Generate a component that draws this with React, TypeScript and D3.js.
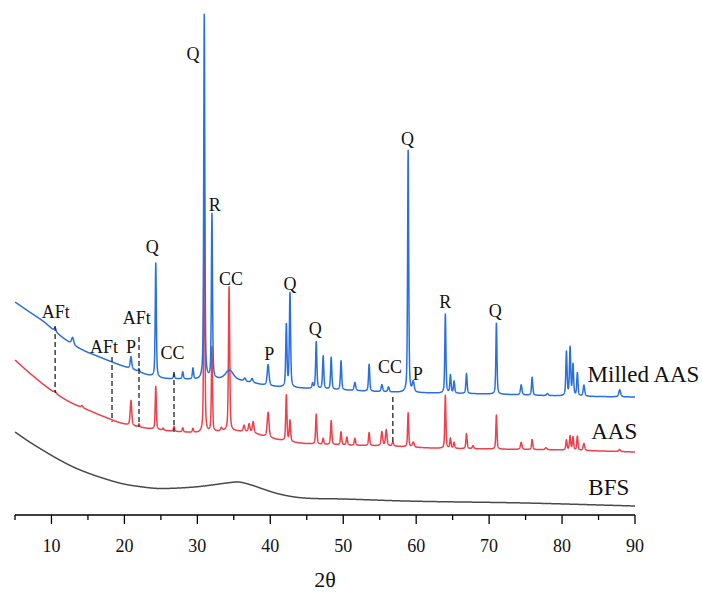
import React from "react";
import * as d3 from "d3";

// background knots (2θ, intensity a.u.)
const bfsBgX = [5, 7, 9, 11, 13, 15, 17, 19.6, 22, 25, 29.6, 32, 34, 35.5, 37.4, 39, 40.7, 42.5, 44.6, 50, 58.5, 75, 90];
const bfsBgV = [166, 146, 128, 111, 96, 84, 74, 63, 57, 53, 56, 60, 64, 66, 60, 52, 44, 38, 34, 32, 28, 24, 18];

const aasBgX = [5, 7, 9, 10.5, 12.5, 15, 18, 19.5, 22, 25, 28, 31, 34, 37, 40, 44, 50, 56, 62, 70, 80, 90];
const aasBgV = [310, 284, 260, 244, 226, 210, 192, 184, 176, 170, 166, 164, 168, 166, 154, 144, 140, 138, 134, 132, 130, 126];

const milledBgX = [5, 7, 9, 10.5, 12, 14, 16.6, 19.4, 21.4, 23, 25, 28, 31, 34, 37, 40, 44, 50, 56, 62, 70, 80, 90];
const milledBgV = [426, 406, 386, 367, 350, 332, 316, 300, 290, 281, 274, 272, 270, 272, 266, 258, 254, 250, 246, 244, 242, 238, 236];

// peaks: [2θ, net height, fwhm]
const aasPeaks = [
  [10.5, 4, 0.3], [14.2, 4, 0.3], [20.9, 50, 0.25], [22.0, 6, 0.2], [24.3, 86, 0.18],
  [25.3, 4, 0.2], [26.8, 10, 0.2], [28.0, 8, 0.2], [29.4, 8, 0.2], [30.95, 476, 0.18],
  [32.0, 170, 0.18], [33.3, 6, 0.25], [34.35, 288, 0.2], [36.4, 12, 0.25], [37.1, 16, 0.25],
  [37.65, 22, 0.25], [39.7, 50, 0.3], [42.2, 92, 0.2], [42.7, 42, 0.2], [46.3, 60, 0.2],
  [47.25, 12, 0.2], [48.35, 48, 0.2], [49.7, 26, 0.2], [50.5, 16, 0.2], [51.6, 14, 0.2],
  [53.55, 26, 0.2], [55.3, 28, 0.25], [55.9, 32, 0.25], [56.8, 8, 0.25], [58.9, 68, 0.18],
  [59.6, 10, 0.3], [64.0, 106, 0.18], [64.7, 20, 0.2], [65.2, 12, 0.2], [66.9, 30, 0.2],
  [67.8, 6, 0.25], [71.0, 68, 0.18], [74.4, 14, 0.25], [75.9, 20, 0.2], [77.8, 4, 0.3],
  [80.6, 20, 0.2], [81.1, 28, 0.2], [81.5, 26, 0.2], [82.1, 28, 0.2], [83.0, 14, 0.25],
  [87.9, 4, 0.3],
];

const milledPeaks = [
  [10.5, 8, 0.3], [12.9, 14, 0.35], [20.9, 24, 0.25], [22.0, 6, 0.2], [24.3, 228, 0.18],
  [26.8, 10, 0.2], [28.0, 14, 0.2], [29.4, 22, 0.2], [30.95, 730, 0.18], [32.0, 330, 0.18],
  [34.4, 18, 1.2], [36.5, 6, 0.3], [37.5, 8, 0.3], [39.7, 42, 0.3], [42.2, 124, 0.2],
  [42.7, 188, 0.2], [45.8, 10, 0.2], [46.3, 94, 0.2], [47.25, 66, 0.2], [48.35, 64, 0.2],
  [49.7, 58, 0.2], [51.6, 16, 0.25], [53.55, 54, 0.2], [55.3, 14, 0.25], [56.2, 10, 0.25],
  [58.9, 484, 0.18], [59.6, 20, 0.3], [64.0, 158, 0.18], [64.7, 36, 0.2], [65.2, 24, 0.2],
  [66.9, 40, 0.2], [71.0, 142, 0.18], [74.4, 20, 0.25], [75.9, 36, 0.2], [78.0, 4, 0.3],
  [80.6, 88, 0.2], [81.1, 96, 0.2], [81.5, 62, 0.2], [82.1, 46, 0.2], [83.0, 22, 0.25],
  [87.9, 14, 0.3],
];

const bfsPeaks: number[][] = [];

// phase annotations: [label, 2θ, intensity]
const annotations: [string, number, number][] = [
  ["AFt", 10.6, 394], ["AFt", 17.2, 324], ["P", 20.9, 324], ["AFt", 21.7, 382],
  ["Q", 23.8, 524], ["CC", 26.6, 312], ["Q", 29.4, 910], ["R", 32.4, 608],
  ["CC", 34.6, 460], ["P", 39.85, 310], ["Q", 42.7, 450], ["Q", 46.15, 360],
  ["CC", 56.4, 284], ["Q", 58.8, 740], ["P", 60.2, 270], ["R", 64.0, 414], ["Q", 70.85, 396],
];

// dashed markers: [2θ, from, to]
const markers = [
  [10.5, 378, 244], [18.3, 316, 186], [22.0, 356, 176], [26.8, 286, 166], [56.8, 236, 146],
];

const xTicks = [10, 20, 30, 40, 50, 60, 70, 80, 90];
const minorTicks = [5, 15, 25, 35, 45, 55, 65, 75, 85];

const series = [
  { name: "BFS", bgX: bfsBgX, bgV: bfsBgV, peaks: bfsPeaks, color: "#4a4a4a", label: [83.6, 40] },
  { name: "AAS", bgX: aasBgX, bgV: aasBgV, peaks: aasPeaks, color: "#ef3f4a", label: [84.0, 152] },
  { name: "Milled AAS", bgX: milledBgX, bgV: milledBgV, peaks: milledPeaks, color: "#2a6fe0", label: [83.5, 266] },
];

const W = 702;
const H = 592;
const FONT = "'Liberation Serif', 'Times New Roman', serif";

function profile(t: number, c: number, w: number) {
  const d = (t - c) / (w / 2);
  return 0.5 / (1 + d * d) + 0.5 * Math.exp(-Math.LN2 * d * d);
}

// smooth monotone curve through the background knots
function monotone(xs: number[], ys: number[]) {
  const n = xs.length;
  const d: number[] = [];
  for (let i = 0; i < n - 1; i++) d.push((ys[i + 1] - ys[i]) / (xs[i + 1] - xs[i]));
  const m: number[] = [d[0]];
  for (let i = 1; i < n - 1; i++) m.push(d[i - 1] * d[i] <= 0 ? 0 : (d[i - 1] + d[i]) / 2);
  m.push(d[n - 2]);
  for (let i = 0; i < n - 1; i++) {
    if (d[i] === 0) { m[i] = 0; m[i + 1] = 0; continue; }
    const a = m[i] / d[i], b = m[i + 1] / d[i], s = a * a + b * b;
    if (s > 9) { const k = 3 / Math.sqrt(s); m[i] = k * a * d[i]; m[i + 1] = k * b * d[i]; }
  }
  return (t: number) => {
    const i = Math.max(0, Math.min(n - 2, d3.bisectRight(xs, t) - 1));
    const h = xs[i + 1] - xs[i], u = (t - xs[i]) / h;
    const h00 = 2 * u ** 3 - 3 * u ** 2 + 1, h10 = u ** 3 - 2 * u ** 2 + u;
    const h01 = -2 * u ** 3 + 3 * u ** 2, h11 = u ** 3 - u ** 2;
    return h00 * ys[i] + h10 * h * m[i] + h01 * ys[i + 1] + h11 * h * m[i + 1];
  };
}

const grid = d3.range(5, 90.0001, 0.01);

function buildPattern(bgX: number[], bgV: number[], peaks: number[][]) {
  const bg = monotone(bgX, bgV);
  return grid.map((t) => {
    let v = bg(t);
    for (const [c, h, w] of peaks) {
      if (Math.abs(t - c) < 4) v += h * profile(t, c, w);
    }
    return [t, v] as [number, number];
  });
}

export default function App() {
  const x = d3.scaleLinear().domain([5, 90]).range([15, 635]);
  const y = d3.scaleLinear().domain([0, 1000]).range([515, 15]);
  const line = d3
    .line<[number, number]>()
    .x((d) => x(d[0]))
    .y((d) => y(d[1]));

  return (
    <svg
      width={W}
      height={H}
      style={{ position: "absolute", left: 0, top: 0, background: "#fff" }}
      fontFamily={FONT}
    >
      {series.map((s) => (
        <path
          key={s.name}
          d={line(buildPattern(s.bgX, s.bgV, s.peaks)) || ""}
          fill="none"
          stroke={s.color}
          strokeWidth={1.5}
          strokeLinejoin="round"
        />
      ))}

      {markers.map(([t, a, b], i) => (
        <line
          key={i}
          x1={x(t)}
          x2={x(t)}
          y1={y(a)}
          y2={y(b)}
          stroke="#222"
          strokeWidth={1.3}
          strokeDasharray="5,3"
        />
      ))}

      {annotations.map(([lab, t, v], i) => (
        <text key={i} x={x(t)} y={y(v)} textAnchor="middle" fontSize={18} fill="#111">
          {lab}
        </text>
      ))}

      {series.map((s) => (
        <text key={s.name + "l"} x={x(s.label[0])} y={y(s.label[1])} fontSize={23} fill="#111">
          {s.name}
        </text>
      ))}

      {/* x axis */}
      <line x1={x(5)} x2={x(90)} y1={515} y2={515} stroke="#000" strokeWidth={1.5} />
      {xTicks.map((t) => (
        <g key={t}>
          <line x1={x(t)} x2={x(t)} y1={515} y2={524} stroke="#000" strokeWidth={1.3} />
          <text x={x(t)} y={552} textAnchor="middle" fontSize={18} fill="#111">
            {t}
          </text>
        </g>
      ))}
      {minorTicks.map((t) => (
        <line key={t} x1={x(t)} x2={x(t)} y1={515} y2={520} stroke="#000" strokeWidth={1.3} />
      ))}
      <text x={x(47.5)} y={587} textAnchor="middle" fontSize={22} fill="#111">
        2θ
      </text>
    </svg>
  );
}
